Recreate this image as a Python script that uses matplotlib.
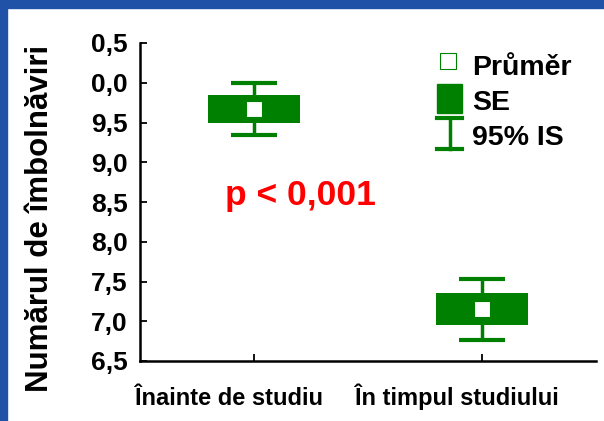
import numpy as np
import matplotlib.pyplot as plt
from matplotlib.patches import Rectangle
from matplotlib.lines import Line2D
from matplotlib.transforms import blended_transform_factory

plt.rcParams['font.family'] = ['Liberation Sans', 'DejaVu Sans']
plt.rcParams['font.weight'] = 'bold'

categories = ['Înainte de studiu', 'În timpul studiului']
means = [9.67, 7.15]
se = [0.17, 0.20]
ci95 = [0.33, 0.38]
yticks = [6.5, 7.0, 7.5, 8.0, 8.5, 9.0, 9.5, 10.0, 10.5]
ytick_labels = ['6,5', '7,0', '7,5', '8,0', '8,5', '9,0', '9,5', '0,0', '0,5']

green = '#008000'
blue = '#2052a8'

fig = plt.figure(figsize=(6.04, 4.21), dpi=100)
fig.patch.set_facecolor('white')

# blue frame pieces on top and left
fig.add_artist(Rectangle((0, 1 - 8 / 421), 1, 8 / 421, transform=fig.transFigure,
                         color=blue, zorder=0))
fig.add_artist(Rectangle((0, 0), 7 / 604, 1, transform=fig.transFigure,
                         color=blue, zorder=0))

ax = fig.add_axes([140 / 604, 60 / 421, 456 / 604, 318 / 421])
x = np.arange(len(categories))

ax.bar(x, 2 * np.array(se), bottom=np.array(means) - np.array(se), width=0.4,
       color=green, zorder=2)
ax.errorbar(x, means, yerr=ci95, fmt='none', ecolor=green, elinewidth=2.5,
            capsize=16.5, capthick=3, zorder=3)
ax.plot(x, means, 's', ms=11.5, mfc='white', mec=green, mew=0.8, zorder=4)

ax.set_xlim(-0.5, 1.5)
ax.set_ylim(6.5, 10.5)
ax.set_yticks(yticks)
ax.set_yticklabels(ytick_labels, fontsize=19, fontweight='bold')
ax.set_xticks(x)
ax.set_xticklabels([])
# category names sit a little left of their ticks in the original
bt = blended_transform_factory(ax.transData, ax.transAxes)
for xi, lab in zip(x, categories):
    ax.text(xi - 0.11, -0.138, lab, transform=bt, fontsize=17,
            fontweight='bold', ha='center', va='baseline')
ax.tick_params(axis='y', direction='in', length=5, width=1.3, pad=9)
ax.tick_params(axis='x', direction='in', length=5, width=1.3)
for s in ['top', 'right']:
    ax.spines[s].set_visible(False)
for s in ['left', 'bottom']:
    ax.spines[s].set_linewidth(1.8)

ax.text(0.351, 0.522, 'p < 0,001', transform=ax.transAxes, color='red',
        fontsize=25.5, fontweight='bold', ha='center', va='center')

# legend drawn by hand
tr = ax.transAxes
ax.plot([0.675], [0.943], 's', ms=11, mfc='white', mec=green, mew=0.8,
        transform=tr, clip_on=False)
ax.text(0.728, 0.899, 'Průměr', transform=tr, fontsize=20.5, fontweight='bold',
        va='baseline')
ax.add_patch(Rectangle((0.651, 0.78), 0.055, 0.091, transform=tr, color=green,
                       clip_on=False))
ax.text(0.728, 0.789, 'SE', transform=tr, fontsize=20.5, fontweight='bold',
        va='baseline')
ax.add_line(Line2D([0.679, 0.679], [0.668, 0.760], transform=tr, color=green,
                   lw=2.5, clip_on=False))
ax.add_line(Line2D([0.652, 0.706], [0.763, 0.763], transform=tr, color=green,
                   lw=3, clip_on=False))
ax.add_line(Line2D([0.652, 0.706], [0.667, 0.667], transform=tr, color=green,
                   lw=3, clip_on=False))
ax.text(0.728, 0.679, '95% IS', transform=tr, fontsize=20.5, fontweight='bold',
        va='baseline')

fig.text(0.066, 0.48, 'Numărul de îmbolnăviri', rotation=90, fontsize=22.5,
         fontweight='bold', ha='center', va='center')

fig.savefig('out.png', dpi=100)
